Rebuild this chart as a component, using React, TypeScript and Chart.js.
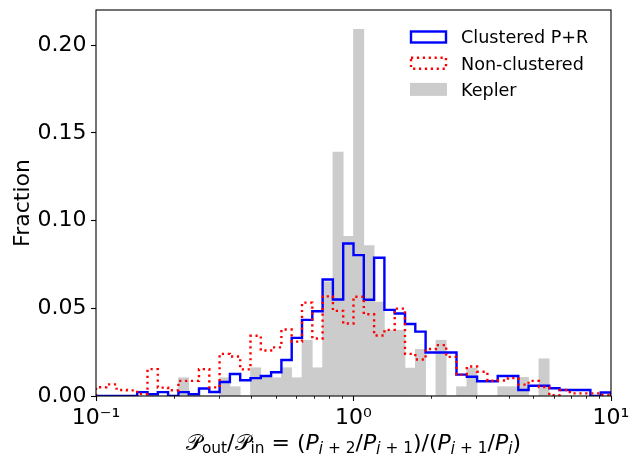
import React, { useEffect, useRef } from 'react';
import { Chart, registerables } from 'chart.js';

Chart.register(...registerables);

const FONT = 'DejaVu Sans';

// Histogram binning: 50 equal bins in log10 between 0.1 and 10
const LOG_MIN = -1;
const LOG_MAX = 1;
const N_BINS = 50;
const BIN_EDGES = Array.from({ length: N_BINS + 1 }, (_, k) =>
  Math.pow(10, LOG_MIN + (k * (LOG_MAX - LOG_MIN)) / N_BINS)
);
const BIN_CENTERS = BIN_EDGES.slice(0, N_BINS).map((e, k) => Math.sqrt(e * BIN_EDGES[k + 1]));

const X_MAJOR_TICKS = [0.1, 1, 10];
const X_TICK_LABELS = ['10⁻¹', '10⁰', '10¹'];
const Y_TICKS = [0, 0.05, 0.1, 0.15, 0.2];
const Y_MAX = 0.22;

const LABEL_CLUSTERED = 'Clustered P+R';
const LABEL_NON_CLUSTERED = 'Non-clustered';
const LABEL_KEPLER = 'Kepler';

// Fraction of period-ratio pairs per bin
const CLUSTERED = [
  0, 0, 0, 0, 0.0022, 0.001, 0.0022, 0, 0.0022, 0.001,
  0.0043, 0.0023, 0.008, 0.0125, 0.009, 0.0102, 0.0114, 0.0135, 0.0205, 0.0331,
  0.0434, 0.0483, 0.0664, 0.055, 0.0869, 0.0803, 0.0549, 0.0788, 0.0491, 0.047,
  0.041, 0.0367, 0.0248, 0.0248, 0.0248, 0.0122, 0.011, 0.0084, 0.0084, 0.0114,
  0.0114, 0.0034, 0.0058, 0.0058, 0.0044, 0.0034, 0.0034, 0.0034, 0, 0.002,
];

const NON_CLUSTERED = [
  0.005, 0.0066, 0.0034, 0.0032, 0.0012, 0.0153, 0.0048, 0.0033, 0.0086, 0.0086,
  0.0153, 0.0049, 0.024, 0.0225, 0.0152, 0.0343, 0.0259, 0.0277, 0.0379, 0.031,
  0.0532, 0.0328, 0.0568, 0.0485, 0.0413, 0.0566, 0.0466, 0.0345, 0.0377, 0.0498,
  0.024, 0.0208, 0.0268, 0.029, 0.0223, 0.0122, 0.0168, 0.0138, 0.0087, 0.0088,
  0.0102, 0.0065, 0.0086, 0.0051, 0.0004, 0.0034, 0.0015, 0.0015, 0.0015, 0.0006,
];

const KEPLER = [
  0, 0, 0, 0, 0, 0, 0, 0, 0.0104, 0,
  0, 0, 0.0104, 0.0053, 0, 0.0161, 0.0106, 0.0104, 0.0161, 0.0104,
  0.0318, 0.0161, 0.065, 0.139, 0.091, 0.209, 0.0857, 0.0536, 0.0375, 0.0375,
  0.0159, 0.0266, 0, 0.0318, 0, 0.0053, 0.0159, 0, 0, 0.0053,
  0.0053, 0.0106, 0, 0.0212, 0, 0, 0, 0, 0, 0,
];

type Run = { text: string; italic?: boolean; sub?: boolean };

const X_LABEL: Run[] = [
  { text: '𝒫' }, { text: 'out', sub: true }, { text: '/' }, { text: '𝒫' }, { text: 'in', sub: true },
  { text: ' = (' },
  { text: 'P', italic: true }, { text: 'j', italic: true, sub: true }, { text: ' + 2', sub: true },
  { text: '/' },
  { text: 'P', italic: true }, { text: 'j', italic: true, sub: true }, { text: ' + 1', sub: true },
  { text: ')/(' },
  { text: 'P', italic: true }, { text: 'j', italic: true, sub: true }, { text: ' + 1', sub: true },
  { text: '/' },
  { text: 'P', italic: true }, { text: 'j', italic: true, sub: true },
  { text: ')' },
];

// Outline of a step histogram: rises from zero at the first edge, falls to zero at the last
function stepOutline(values: number[]) {
  const pts = [{ x: BIN_EDGES[0], y: 0 }];
  values.forEach((v, k) => pts.push({ x: BIN_EDGES[k], y: v }));
  pts.push({ x: BIN_EDGES[N_BINS], y: values[N_BINS - 1] });
  pts.push({ x: BIN_EDGES[N_BINS], y: 0 });
  return pts;
}

const decorations = {
  id: 'decorations',
  afterDraw(chart: any) {
    const { ctx, chartArea: a, scales } = chart;
    const xs = scales.x;
    ctx.save();

    // minor ticks on the log axis
    ctx.strokeStyle = '#000';
    ctx.lineWidth = 0.85;
    for (const d of [0.1, 1]) {
      for (let m = 2; m <= 9; m++) {
        const px = Math.round(xs.getPixelForValue(m * d)) + 0.5;
        ctx.beginPath();
        ctx.moveTo(px, a.bottom);
        ctx.lineTo(px, a.bottom + 2.8);
        ctx.stroke();
      }
    }

    // axes frame
    ctx.lineWidth = 1.1;
    ctx.strokeRect(a.left, a.top, a.right - a.left, a.bottom - a.top);

    // legend
    const ds = chart.data.datasets;
    const order = [LABEL_CLUSTERED, LABEL_NON_CLUSTERED, LABEL_KEPLER];
    const legendX = 411;
    const boxW = 35;
    const boxH = 11;
    const rowCenter0 = 37;
    const rowGap = 26.2;
    ctx.font = `17.6px "${FONT}"`;
    ctx.textBaseline = 'alphabetic';
    ctx.textAlign = 'left';
    order.forEach((label, i) => {
      const d = ds.find((s: any) => s.label === label);
      const cy = rowCenter0 + i * rowGap;
      if (d.type === 'bar') {
        ctx.fillStyle = d.backgroundColor;
        ctx.fillRect(legendX - 1, cy - boxH / 2 - 1, boxW + 2, boxH + 2);
      } else {
        ctx.strokeStyle = d.borderColor;
        ctx.lineWidth = d.borderWidth;
        ctx.setLineDash(d.borderDash || []);
        ctx.strokeRect(legendX, cy - boxH / 2, boxW, boxH);
        ctx.setLineDash([]);
      }
      ctx.fillStyle = '#000';
      ctx.fillText(label, 461, cy + 6.3);
    });

    // x-axis label with subscripts
    const size = 22;
    const subSize = 15.4;
    const fontFor = (r: Run) =>
      `${r.italic ? 'italic ' : ''}${r.sub ? subSize : size}px "${FONT}"`;
    let total = 0;
    const widths = X_LABEL.map((r) => {
      ctx.font = fontFor(r);
      const w = ctx.measureText(r.text).width;
      total += w;
      return w;
    });
    let x = (a.left + a.right) / 2 - total / 2;
    const baseline = 450;
    ctx.fillStyle = '#000';
    X_LABEL.forEach((r, i) => {
      ctx.font = fontFor(r);
      ctx.fillText(r.text, x, r.sub ? baseline + 3.2 : baseline);
      x += widths[i];
    });

    ctx.restore();
  },
};

export default function App() {
  const ref = useRef<HTMLCanvasElement>(null);

  useEffect(() => {
    const canvas = ref.current;
    if (!canvas) return;
    const tickFont = { family: FONT, size: 22 };
    const chart = new Chart(canvas, {
      type: 'bar',
      data: {
        datasets: [
          {
            type: 'line',
            label: LABEL_NON_CLUSTERED,
            data: stepOutline(NON_CLUSTERED),
            borderColor: '#ff0000',
            backgroundColor: 'transparent',
            borderWidth: 2.4,
            borderDash: [2.2, 3.7],
            borderCapStyle: 'butt',
            stepped: true,
            pointRadius: 0,
            fill: false,
            clip: 0,
            order: 0,
          } as any,
          {
            type: 'line',
            label: LABEL_CLUSTERED,
            data: stepOutline(CLUSTERED),
            borderColor: '#0000ff',
            backgroundColor: 'transparent',
            borderWidth: 2.4,
            stepped: true,
            pointRadius: 0,
            fill: false,
            clip: 0,
            order: 1,
          } as any,
          {
            type: 'bar',
            label: LABEL_KEPLER,
            data: BIN_CENTERS.map((x, k) => ({ x, y: KEPLER[k] })),
            backgroundColor: '#cccccc',
            borderWidth: 0,
            barPercentage: 1,
            categoryPercentage: 1,
            order: 2,
          } as any,
        ],
      },
      options: {
        responsive: false,
        animation: false,
        events: [],
        layout: { padding: { top: 10, right: 28, left: 0, bottom: 0 } },
        plugins: { legend: { display: false }, tooltip: { enabled: false } },
        scales: {
          x: {
            type: 'logarithmic',
            min: 0.1,
            max: 10,
            offset: false,
            afterBuildTicks: (s: any) => {
              s.ticks = X_MAJOR_TICKS.map((v) => ({ value: v }));
            },
            afterFit: (s: any) => {
              s.height = 58;
              s.paddingLeft = 0;
              s.paddingRight = 0;
            },
            ticks: {
              autoSkip: false,
              maxRotation: 0,
              minRotation: 0,
              padding: 4,
              color: '#000',
              font: tickFont,
              callback: (_v: any, i: number) => X_TICK_LABELS[i],
            },
            grid: {
              display: true,
              drawOnChartArea: false,
              drawTicks: true,
              tickLength: 5,
              tickColor: '#000',
              tickWidth: 1.1,
              offset: false,
            },
            border: { display: false },
          } as any,
          y: {
            type: 'linear',
            min: 0,
            max: Y_MAX,
            afterBuildTicks: (s: any) => {
              s.ticks = Y_TICKS.map((v) => ({ value: v }));
            },
            afterFit: (s: any) => {
              s.width = 96;
              s.paddingTop = 0;
              s.paddingBottom = 0;
            },
            ticks: {
              padding: 4.5,
              color: '#000',
              font: tickFont,
              callback: (v: any) => Number(v).toFixed(2),
            },
            grid: {
              display: true,
              drawOnChartArea: false,
              drawTicks: true,
              tickLength: 5,
              tickColor: '#000',
              tickWidth: 1.1,
            },
            border: { display: false },
            title: {
              display: true,
              text: 'Fraction',
              color: '#000',
              font: { family: FONT, size: 22 },
              padding: { top: 10, bottom: 0 },
            },
          } as any,
        },
      },
      plugins: [decorations],
    });
    return () => chart.destroy();
  }, []);

  return (
    <div style={{ position: 'absolute', left: 0, top: 0, width: 639, height: 454 }}>
      <canvas ref={ref} width={639} height={454} style={{ width: 639, height: 454, display: 'block' }} />
    </div>
  );
}
